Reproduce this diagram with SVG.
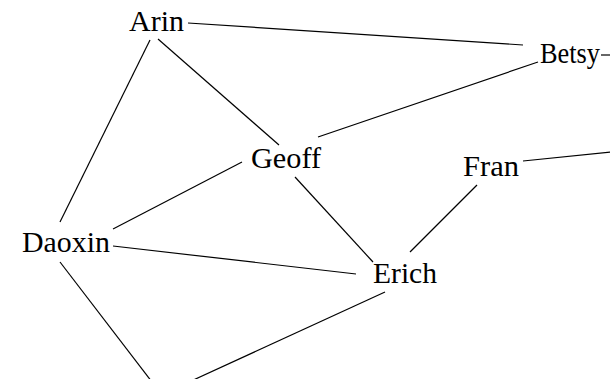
<svg xmlns="http://www.w3.org/2000/svg" width="610" height="379" viewBox="0 0 610 379">
<style>
.e{stroke:#000;stroke-width:1.2;fill:none}
.t{font-family:"Liberation Serif","Times New Roman",serif;font-size:29px;fill:#000}
</style>
<rect width="610" height="379" fill="#fff"/>
<g id="connectors">
<line class="e" x1="188" y1="23" x2="523" y2="45"/>
<line class="e" x1="318" y1="137" x2="538" y2="62"/>
<line class="e" x1="601" y1="55" x2="612" y2="55"/>
<line class="e" x1="158" y1="39" x2="279" y2="145"/>
<line class="e" x1="150" y1="40" x2="60" y2="222"/>
<line class="e" x1="242" y1="162" x2="113" y2="229"/>
<line class="e" x1="295" y1="177" x2="373" y2="262"/>
<line class="e" x1="113" y1="246" x2="356" y2="274"/>
<line class="e" x1="477" y1="185" x2="410" y2="252"/>
<line class="e" x1="523" y1="161" x2="612" y2="152"/>
<line class="e" x1="60" y1="262" x2="152" y2="382"/>
<line class="e" x1="385" y1="292" x2="189" y2="382"/>
</g>
<g id="Arin"><text class="t" x="129" y="31" textLength="55" lengthAdjust="spacingAndGlyphs">Arin</text></g>
<g id="Betsy"><text class="t" x="540" y="63" textLength="60" lengthAdjust="spacingAndGlyphs">Betsy</text></g>
<g id="Geoff"><text class="t" x="251" y="168" textLength="70" lengthAdjust="spacingAndGlyphs">Geoff</text></g>
<g id="Fran"><text class="t" x="463" y="176" textLength="56" lengthAdjust="spacingAndGlyphs">Fran</text></g>
<g id="Daoxin"><text class="t" x="22" y="252" textLength="88" lengthAdjust="spacingAndGlyphs">Daoxin</text></g>
<g id="Erich"><text class="t" x="373" y="283" textLength="64" lengthAdjust="spacingAndGlyphs">Erich</text></g>
</svg>
